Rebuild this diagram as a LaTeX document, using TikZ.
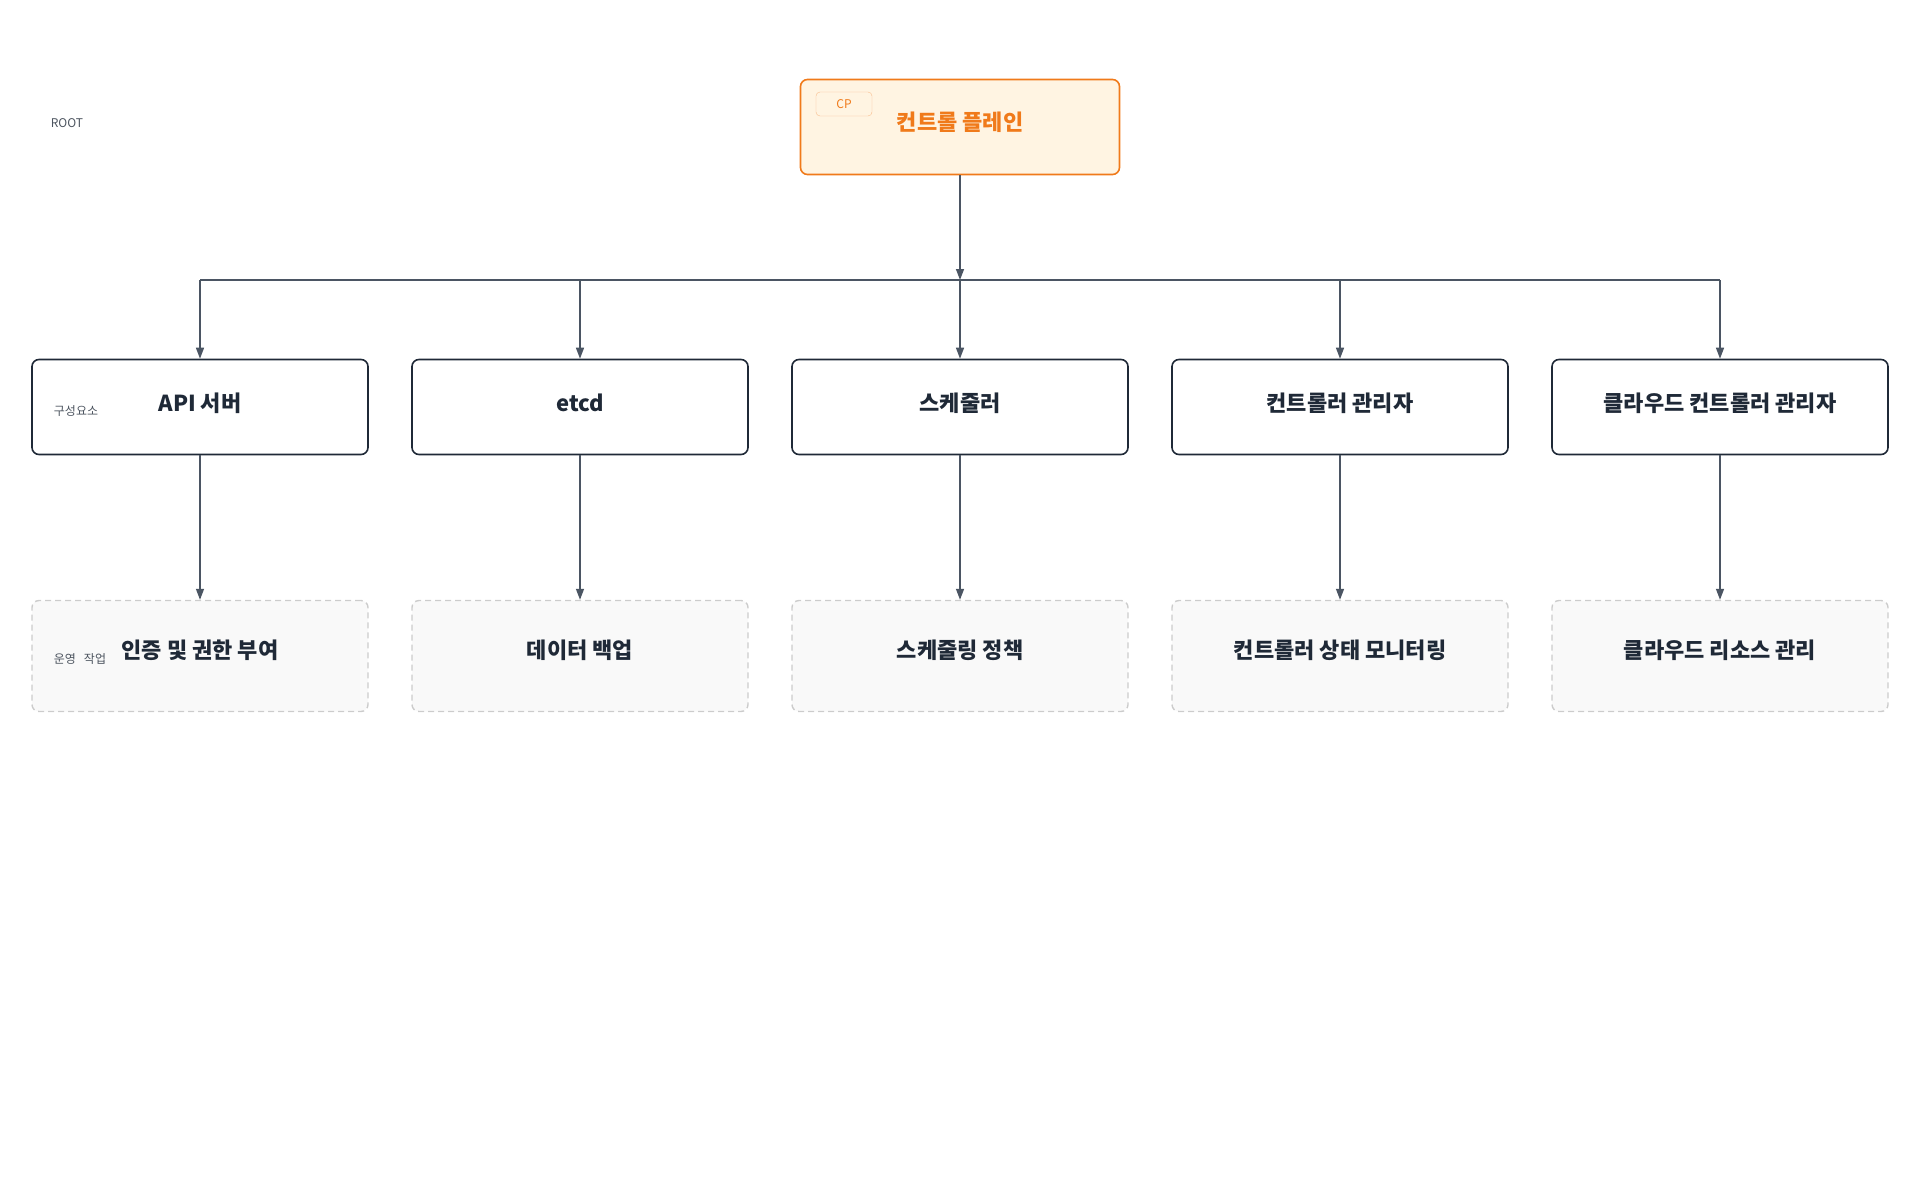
\documentclass[tikz,border=0pt]{standalone}
\usepackage{fontspec}
\setmainfont{Noto Sans CJK KR}
\usetikzlibrary{positioning, arrows.meta}
\definecolor{ink}{HTML}{1F2937}
\definecolor{wire}{HTML}{4B5563}
\definecolor{cporange}{HTML}{F07A1A}
\definecolor{cpfill}{HTML}{FFF4E2}
\definecolor{opsline}{HTML}{CCCCCC}
\definecolor{opsfill}{HTML}{F9F9F9}
\begin{document}
\begin{tikzpicture}[
                x=1pt, y=-1pt,
                cp/.style={rectangle, rounded corners=7pt, draw=cporange, line width=1.6pt, fill=cpfill, minimum width=319pt, minimum height=95pt, text=cporange, font=\bfseries\fontsize{22}{26}\selectfont},
                part/.style={rectangle, rounded corners=7pt, draw=ink, line width=1.6pt, fill=white, minimum width=336pt, minimum height=95pt, text=ink, font=\bfseries\fontsize{22}{26}\selectfont},
                ops/.style={rectangle, rounded corners=7pt, draw=opsline, dashed, dash pattern=on 6pt off 4pt, line width=1.4pt, fill=opsfill, minimum width=336pt, minimum height=111pt, text=ink, font=\bfseries\fontsize{22}{26}\selectfont},
                tag/.style={text=ink!80, font=\fontsize{12}{14}\selectfont},
                edge/.style={-{Triangle[length=11pt, width=8pt]}, wire, line width=1.4pt}
            ]
                \useasboundingbox (0,0) rectangle (1920,1200);

                % 루트 노드
                \node[cp] (cp) at (960,127) {};
                \node[text=cporange, font=\bfseries\fontsize{22}{26}\selectfont] (cptitle) at (960,122) {컨트롤 플레인};
                \node[rectangle, rounded corners=4pt, draw=cporange!50, fill=cpfill, minimum width=56pt, minimum height=24pt, text=cporange, font=\fontsize{12}{14}\selectfont] (cptag) at (844,104) {CP};
                \node[tag] (root) at (67,123) {ROOT};

                % 구성요소와 운영 작업
                \foreach \i/\x/\name/\job in {1/200/API 서버/인증 및 권한 부여, 2/580/etcd/데이터 백업, 3/960/스케줄러/스케줄링 정책, 4/1340/컨트롤러 관리자/컨트롤러 상태 모니터링, 5/1720/클라우드 컨트롤러 관리자/클라우드 리소스 관리} {
                    \node[part] (p\i) at (\x,407) {};
                    \node[text=ink, font=\bfseries\fontsize{22}{26}\selectfont] at (\x,403) {\name};
                    \node[ops] (o\i) at (\x,656) {};
                    \node[text=ink, font=\bfseries\fontsize{22}{26}\selectfont] at (\x,650) {\job};
                    \coordinate (b\i) at (\x,280);
                    \draw[edge] (b\i) -- (p\i.north);
                    \draw[edge] (p\i.south) -- (o\i.north);
                }

                % 모선
                \draw[wire, line width=1.4pt] (b1) -- (b5);
                \draw[edge] (cp.south) -- (b3);

                \node[tag] (lbl1) at (76,411) {구성요소};
                \node[tag] (lbl2) at (80,659) {운영\hspace{8pt}작업};

            \end{tikzpicture}
\end{document}
